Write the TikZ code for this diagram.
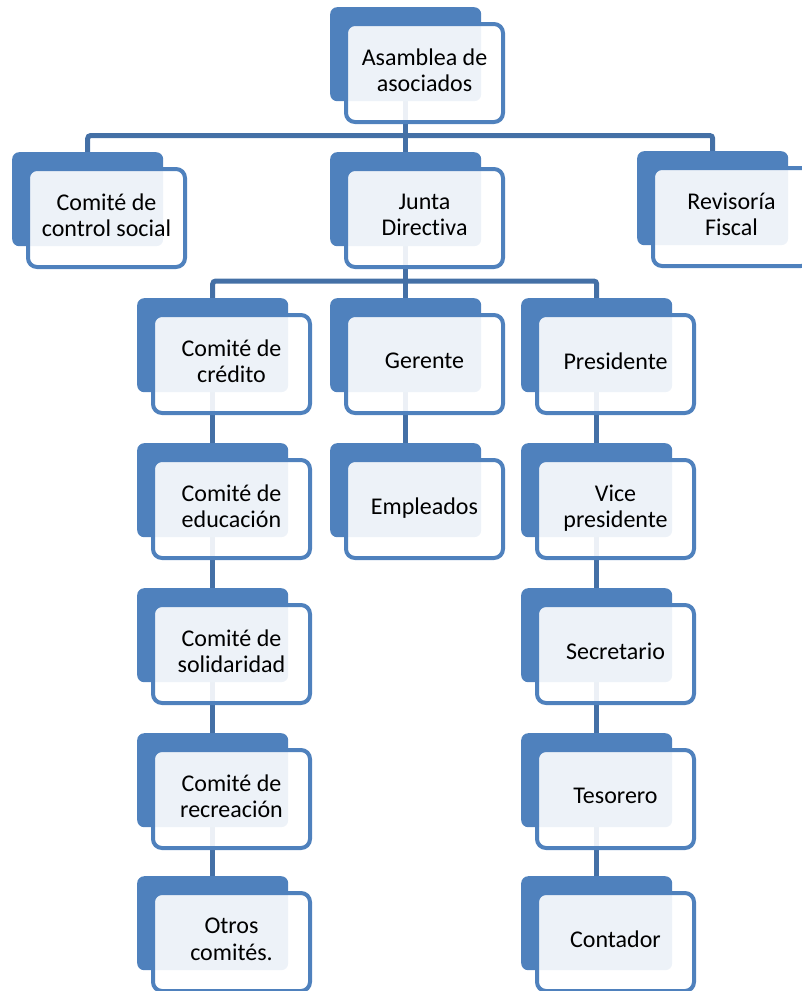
\documentclass[tikz,border=0pt]{standalone}
\usepackage{fontspec}
\setmainfont{Carlito}[Ligatures=NoCommon]
\definecolor{boxblue}{HTML}{4F81BD}
\definecolor{lineblue}{HTML}{4470A6}
\pgfdeclarelayer{bg}
\pgfsetlayers{bg,main}
\tikzset{
 backbox/.style={rectangle, rounded corners=7pt, fill=boxblue, minimum width=151pt, minimum height=94pt, inner sep=0pt, anchor=north west},
 frontbox/.style={rectangle, rounded corners=9pt, draw=boxblue, line width=4pt, fill=white, fill opacity=0.9, text opacity=1, minimum width=157pt, minimum height=98pt, inner sep=0pt, anchor=north west, align=center, font=\fontsize{24}{26.5}\selectfont},
 conn/.style={draw=lineblue, line width=5pt, rounded corners=3pt}
}
\newcommand\orgbox[4]{%
 \node[backbox] (#1-b) at (#2,#3) {};
 \node[frontbox] (#1) at (#2+14,#3+15) {#4\\[-20.5pt]\mbox{}};
}
\begin{document}
\begin{tikzpicture}[x=1pt,y=-1pt]
\useasboundingbox (0,0) rectangle (801,991);
\orgbox{asam}{330}{7}{Asamblea de\\asociados}
\orgbox{control}{12}{152}{Comité de\\control social}
\orgbox{junta}{330}{152}{Junta\\Directiva}
\orgbox{revisoria}{637}{151}{Revisoría\\Fiscal}
\orgbox{credito}{137}{298}{Comité de\\crédito}
\orgbox{educacion}{137}{443}{Comité de\\educación}
\orgbox{solidaridad}{137}{588}{Comité de\\solidaridad}
\orgbox{recreacion}{137}{733}{Comité de\\recreación}
\orgbox{otros}{137}{876}{Otros\\comités.}
\orgbox{gerente}{330}{298}{Gerente}
\orgbox{empleados}{330}{443}{Empleados}
\orgbox{presidente}{521}{298}{Presidente}
\orgbox{vice}{521}{443}{Vice\\presidente}
\orgbox{secretario}{521}{588}{Secretario}
\orgbox{tesorero}{521}{733}{Tesorero}
\orgbox{contador}{521}{876}{Contador}
\begin{pgfonlayer}{bg}
\draw[conn] (asam-b.south) -- (junta-b.north);
\draw[conn] (control-b.north) -- ++(0,-16.5) -| (revisoria-b.north);
\draw[conn] (junta-b.south) -- (gerente-b.north);
\draw[conn] (credito-b.north) -- ++(0,-17) -| (presidente-b.north);
\draw[conn] (credito-b.south) -- (educacion-b.north);
\draw[conn] (educacion-b.south) -- (solidaridad-b.north);
\draw[conn] (solidaridad-b.south) -- (recreacion-b.north);
\draw[conn] (recreacion-b.south) -- (otros-b.north);
\draw[conn] (gerente-b.south) -- (empleados-b.north);
\draw[conn] (presidente-b.south) -- (vice-b.north);
\draw[conn] (vice-b.south) -- (secretario-b.north);
\draw[conn] (secretario-b.south) -- (tesorero-b.north);
\draw[conn] (tesorero-b.south) -- (contador-b.north);
\end{pgfonlayer}
\end{tikzpicture}
\end{document}
